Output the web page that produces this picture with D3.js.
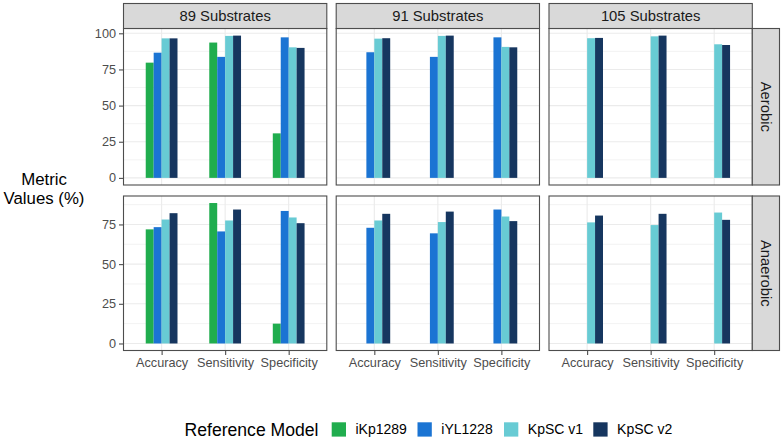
<!DOCTYPE html>
<html>
<head>
<meta charset="utf-8">
<script src="https://cdn.jsdelivr.net/npm/d3@7"></script>
<style>
  html, body { margin: 0; padding: 0; background: #fff; }
  svg text { font-family: "Liberation Sans", Arial, Helvetica, sans-serif; }
</style>
</head>
<body>
<svg id="chart" width="781" height="438"></svg>
<script>
// ---------------- data ----------------
const categories = ["Accuracy", "Sensitivity", "Specificity"];
const substrates = ["89 Substrates", "91 Substrates", "105 Substrates"];
const conditions = ["Aerobic", "Anaerobic"];
const models = ["iKp1289", "iYL1228", "KpSC v1", "KpSC v2"];
const modelColors = ["#20ad4e", "#1b74d3", "#68cbd4", "#16365f"];
const yTicksAerobic = [0, 25, 50, 75, 100];
const yTicksAnaerobic = [0, 25, 50, 75];

// each array: [89 Acc, 89 Sens, 89 Spec, 91 Acc, 91 Sens, 91 Spec, 105 Acc, 105 Sens, 105 Spec]
const aerobicIKp1289 = [79.7, 93.6, 30.8, null, null, null, null, null, null];
const aerobicIYL1228 = [86.6, 83.7, 97.2, 86.9, 83.7, 97.2, null, null, null];
const aerobicKpSCv1  = [96.5, 98.2, 90.3, 96.3, 98.2, 90.6, 96.6, 97.9, 92.4];
const aerobicKpSCv2  = [96.5, 98.4, 89.9, 96.6, 98.4, 90.3, 96.8, 98.4, 91.9];

const anaerobicIKp1289 = [71.9, 88.5, 12.5, null, null, null, null, null, null];
const anaerobicIYL1228 = [73.3, 70.6, 83.5, 72.9, 69.4, 84.4, null, null, null];
const anaerobicKpSCv1  = [78.1, 77.5, 79.4, 77.5, 76.5, 80.0, 76.3, 74.6, 82.5];
const anaerobicKpSCv2  = [82.1, 84.4, 75.8, 81.7, 83.1, 77.1, 80.6, 81.7, 77.9];

const seriesByCondition = [
  [aerobicIKp1289, aerobicIYL1228, aerobicKpSCv1, aerobicKpSCv2],
  [anaerobicIKp1289, anaerobicIYL1228, anaerobicKpSCv1, anaerobicKpSCv2]
];
const yTicksByCondition = [yTicksAerobic, yTicksAnaerobic];

// ---------------- layout ----------------
const svg = d3.select("#chart");
const panelLefts = [123.5, 336.2, 549];
const panelW = 203.3;
const rowTops = [28.5, 196];
const rowBottoms = [185, 350.5];
const stripTop = 3.5;
const stripRightX0 = 752.3, stripRightX1 = 779.5;
const borderColor = "#4d4d4d";
const gridColor = "#ebebeb";
const textColor = "#4d4d4d";

const color = d3.scaleOrdinal().domain(models).range(modelColors);

const x = d3.scalePoint().domain(categories).range([0, panelW]).padding(0.6);
const unit = x.step();
const xSlot = d3.scaleBand().domain(models).range([-0.25 * unit, 0.25 * unit]).padding(0);

conditions.forEach((cond, r) => {
  const series = seriesByCondition[r];
  const maxV = d3.max(series.flat());
  const y = d3.scaleLinear()
    .domain([-0.05 * maxV, maxV * 1.05])
    .range([rowBottoms[r], rowTops[r]]);
  const ticks = yTicksByCondition[r];
  const minor = ticks.map(t => t + 12.5).filter(t => t <= y.domain()[1]);

  substrates.forEach((sub, c) => {
    const g = svg.append("g").attr("transform", `translate(${panelLefts[c]},0)`);
    g.append("rect").attr("x", 0).attr("y", rowTops[r]).attr("width", panelW)
      .attr("height", rowBottoms[r] - rowTops[r]).attr("fill", "#fff");
    g.selectAll(".minor").data(minor).join("line")
      .attr("x1", 0).attr("x2", panelW)
      .attr("y1", d => y(d)).attr("y2", d => y(d))
      .attr("stroke", gridColor).attr("stroke-width", 0.6);
    g.selectAll(".major").data(ticks).join("line")
      .attr("x1", 0).attr("x2", panelW)
      .attr("y1", d => y(d)).attr("y2", d => y(d))
      .attr("stroke", gridColor).attr("stroke-width", 1.1);
    g.selectAll(".vmajor").data(categories).join("line")
      .attr("x1", d => x(d)).attr("x2", d => x(d))
      .attr("y1", rowTops[r]).attr("y2", rowBottoms[r])
      .attr("stroke", gridColor).attr("stroke-width", 1.1);

    const bars = [];
    models.forEach((m, mi) => {
      categories.forEach((cat, ci) => {
        const v = series[mi][c * 3 + ci];
        if (v !== null && v !== undefined) bars.push({ m, cat, v });
      });
    });
    g.selectAll(".bar").data(bars).join("rect")
      .attr("x", d => x(d.cat) + xSlot(d.m))
      .attr("width", xSlot.bandwidth())
      .attr("y", d => y(d.v))
      .attr("height", d => y(0) - y(d.v))
      .attr("fill", d => color(d.m));

    g.append("rect").attr("x", 0).attr("y", rowTops[r]).attr("width", panelW)
      .attr("height", rowBottoms[r] - rowTops[r])
      .attr("fill", "none").attr("stroke", borderColor).attr("stroke-width", 1.1);

    if (r === 0) {
      g.append("rect").attr("x", 0).attr("y", stripTop).attr("width", panelW)
        .attr("height", rowTops[0] - stripTop)
        .attr("fill", "#d9d9d9").attr("stroke", borderColor).attr("stroke-width", 1.1);
      g.append("text").attr("x", panelW / 2).attr("y", 20.5)
        .attr("text-anchor", "middle").attr("font-size", 14.8).attr("fill", "#1a1a1a")
        .text(sub);
    }

    if (r === 1) {
      const ax = g.append("g").attr("transform", `translate(0,${rowBottoms[1]})`)
        .call(d3.axisBottom(x).tickSize(4.5).tickPadding(3));
      ax.select(".domain").remove();
      ax.selectAll(".tick line").attr("stroke", borderColor).attr("stroke-width", 1.1);
      ax.selectAll(".tick text").attr("font-size", 12.7).attr("fill", textColor)
        .attr("font-family", "Liberation Sans, Arial, sans-serif");
    }

    if (c === 0) {
      const ay = g.append("g")
        .call(d3.axisLeft(y).tickValues(ticks).tickSize(4.5).tickPadding(3));
      ay.select(".domain").remove();
      ay.selectAll(".tick line").attr("stroke", borderColor).attr("stroke-width", 1.1);
      ay.selectAll(".tick text").attr("font-size", 12.7).attr("fill", textColor)
        .attr("font-family", "Liberation Sans, Arial, sans-serif");
    }
  });

  svg.append("rect").attr("x", stripRightX0).attr("y", rowTops[r])
    .attr("width", stripRightX1 - stripRightX0).attr("height", rowBottoms[r] - rowTops[r])
    .attr("fill", "#d9d9d9").attr("stroke", borderColor).attr("stroke-width", 1.1);
  const cy = (rowTops[r] + rowBottoms[r]) / 2;
  const cx = (stripRightX0 + stripRightX1) / 2;
  svg.append("text")
    .attr("transform", `translate(${cx},${cy}) rotate(90)`)
    .attr("text-anchor", "middle").attr("dy", "0.35em")
    .attr("font-size", 14.8).attr("fill", "#1a1a1a")
    .text(cond);
});

// y axis title (two lines)
svg.append("text").attr("x", 44).attr("y", 184.5).attr("text-anchor", "middle")
  .attr("font-size", 16.8).attr("fill", "#000").text("Metric");
svg.append("text").attr("x", 44).attr("y", 203.5).attr("text-anchor", "middle")
  .attr("font-size", 16.8).attr("fill", "#000").text("Values (%)");

// legend
const keyXs = [331.7, 417.5, 504, 593.3];
const keySize = 14.3;
const keyY = 422.3;
svg.append("text").attr("x", 318.5).attr("y", 435.5).attr("text-anchor", "end")
  .attr("font-size", 17.6).attr("fill", "#000").text("Reference Model");
const lg = svg.selectAll(".leg").data(models).join("g");
lg.append("rect").attr("x", (d, i) => keyXs[i]).attr("y", keyY)
  .attr("width", keySize).attr("height", keySize).attr("fill", d => color(d));
lg.append("text").attr("x", (d, i) => keyXs[i] + keySize + 9.5).attr("y", keyY + keySize / 2)
  .attr("dy", "0.36em").attr("font-size", 14).attr("fill", "#000").text(d => d);
</script>
</body>
</html>
